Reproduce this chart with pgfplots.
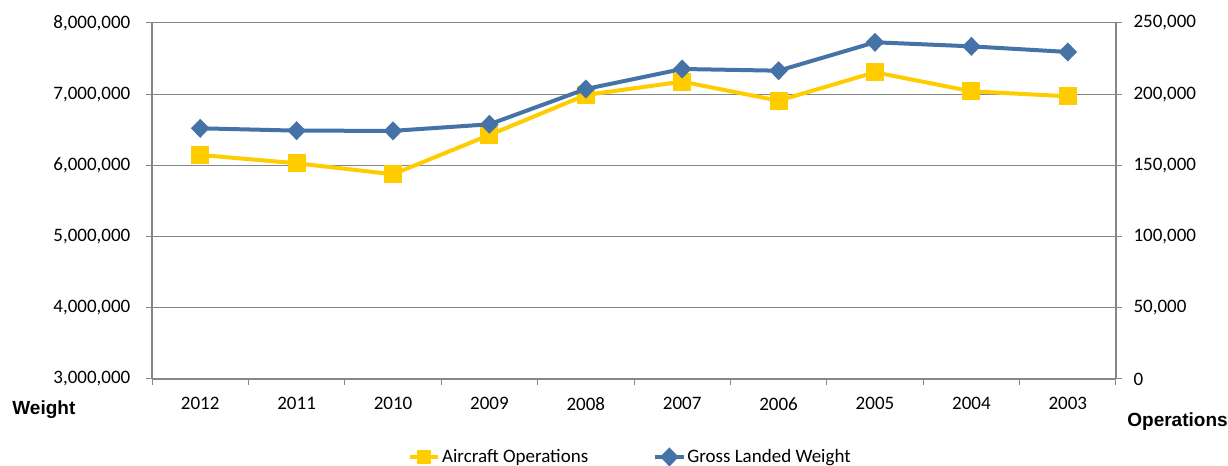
\documentclass[border=0pt]{standalone}
\usepackage{fontspec}
\setmainfont{Carlito}
\newfontfamily\arialfont{Liberation Sans}
\usepackage{pgfplots}
\pgfplotsset{compat=1.18}
\definecolor{opsyellow}{RGB}{255,204,0}
\definecolor{wtblue}{RGB}{69,114,167}
\definecolor{gridgray}{RGB}{134,134,134}

\begin{document}
\begin{tikzpicture}
\pgfplotsset{
  common/.style={
    scale only axis, width=578.4pt, height=213.6pt,
    xmin=-0.5, xmax=9.5,
    font=\fontsize{11.4}{13}\selectfont,
    tick align=outside, major tick length=3.5pt,
    every tick/.style={gridgray, line width=0.6pt},
    axis line style={gridgray, line width=0.8pt},
    scaled y ticks=false,
    yticklabel style={/pgf/number format/fixed, /pgf/number format/precision=0,
      /pgf/number format/1000 sep={,}, /pgf/number format/assume math mode=true},
  },
  opsline/.style={opsyellow, line width=2.4pt, mark=square*, mark size=4.2pt, mark options={solid}},
  wtline/.style={wtblue, line width=2.4pt, mark=diamond*, mark size=4pt, mark options={solid, xscale=1.3}},
}

% right axis: operations (yellow), with grid and category axis
\begin{axis}[common,
  axis y line*=right, axis x line*=bottom,
  ymin=0, ymax=250000,
  ytick={0,50000,100000,150000,200000,250000},
  ymajorgrids, grid style={gridgray, line width=0.6pt},
  yticklabel style={xshift=3.5pt},
  xtick={-0.5,0.5,1.5,2.5,3.5,4.5,5.5,6.5,7.5,8.5,9.5},
  x tick label as interval,
  xticklabels={2012,2011,2010,2009,2008,2007,2006,2005,2004,2003},
  xticklabel style={yshift=-4pt},
]
\addplot[opsline] coordinates {
  (0,157300) (1,151500) (2,143750) (3,171350) (4,199440)
  (5,208800) (6,195440) (7,215380) (8,202030) (9,198520)
};
\end{axis}

% left axis: gross landed weight (blue)
\begin{axis}[common,
  axis y line*=left, axis x line=none,
  ymin=3000000, ymax=8000000,
  ytick={3000000,4000000,5000000,6000000,7000000,8000000},
  yticklabel style={xshift=-6pt},
  legend columns=2,
  legend cell align=left,
  legend style={at={(0.496,-0.219)}, anchor=center, draw=none, fill=none,
    font=\fontsize{11.4}{13}\selectfont,
    nodes={inner xsep=1pt},
    /tikz/every even column/.append style={column sep=38pt}},
]
\addlegendimage{opsyellow, line width=2.4pt, mark=square*, mark size=3pt}
\addlegendentry{Aircraft Operations}
\addplot[wtline] coordinates {
  (0,6521000) (1,6488000) (2,6485000) (3,6577000) (4,7073000)
  (5,7354000) (6,7330000) (7,7729000) (8,7672000) (9,7593000)
};
\addlegendentry{Gross Landed Weight}

\coordinate (wlab) at (rel axis cs:-0.1452,-0.0871);
\coordinate (olab) at (rel axis cs:1.1162,-0.1208);
\coordinate (tl) at (rel axis cs:-0.1577,1.0646);
\coordinate (br) at (rel axis cs:1.1162,-0.2444);
\end{axis}

\node[anchor=west, inner sep=0pt, font={\arialfont\bfseries\fontsize{11.4}{13}\selectfont}]
  at (wlab) {Weight};
\node[anchor=east, inner sep=0pt, font={\arialfont\bfseries\fontsize{11.4}{13}\selectfont}]
  at (olab) {Operations};

\pgfresetboundingbox
\path[use as bounding box] (tl) rectangle (br);
\end{tikzpicture}
\end{document}
